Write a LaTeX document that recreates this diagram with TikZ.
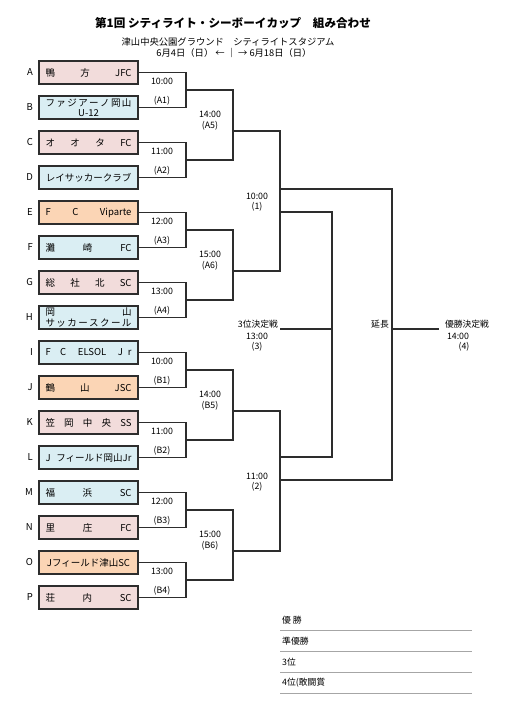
\documentclass[tikz,border=0pt]{standalone}
\usepackage{fontspec}
\setmainfont{Noto Sans CJK JP}
\usepackage{xcolor}
\usepackage{tikz}
\usetikzlibrary{positioning, calc}

\definecolor{teampink}{RGB}{242,220,219}
\definecolor{teamblue}{RGB}{218,238,243}
\definecolor{teamorange}{RGB}{251,213,181}
\definecolor{bracketgray}{RGB}{45,45,45}

\newcommand{\teamrow}[1]{\hbox to 86pt{#1}}

\begin{document}
\begin{tikzpicture}[x=1pt, y=-1pt,
    team/.style={draw=bracketgray, line width=1.3pt, minimum width=99pt, minimum height=23pt,
      inner sep=0pt, text=black, font=\fontsize{9.5}{10.5}\selectfont},
    tag/.style={text=black, font=\fontsize{9.5}{10}\selectfont},
    time/.style={inner sep=0pt, text=black, font=\fontsize{8.8}{10}\selectfont},
    bline/.style={bracketgray, line width=1.1pt}]
      \useasboundingbox (0,0) rectangle (511,712);

      % heading
      \node[font=\fontsize{11.6}{13}\selectfont\bfseries] (title) at (233,23) {第1回 シティライト・シーボーイカップ　組み合わせ};
      \node[font=\fontsize{9.3}{10}\selectfont] (venue) at (228,42) {津山中央公園グラウンド　シティライトスタジアム};
      \node[font=\fontsize{9.3}{10}\selectfont] (dates) at (234,53) {6月4日（日） ← {\bfseries ｜} → 6月18日（日）};

      % teams
      \node[team, fill=teampink] (tA) at (88.5,72.5) {\teamrow{鴨\hfill 方\hfill JFC}};
      \node[team, fill=teamblue] (tB) at (88.5,107.5) {\vbox{\teamrow{フ\hfil ァ\hfil ジ\hfil ア\hfil ー\hfil ノ\hfil 岡\hfil 山}\teamrow{\hfil U-12\hfil}}};
      \node[team, fill=teampink] (tC) at (88.5,142.5) {\teamrow{オ\hfill オ\hfill タ\hfill FC}};
      \node[team, fill=teamblue] (tD) at (88.5,177.5) {\teamrow{\hfil レイサッカークラブ\hfil}};
      \node[team, fill=teamorange] (tE) at (88.5,212.5) {\teamrow{F\hfill C\hfill Viparte}};
      \node[team, fill=teamblue] (tF) at (88.5,247.5) {\teamrow{灘\hfill 崎\hfill FC}};
      \node[team, fill=teampink] (tG) at (88.5,282.5) {\teamrow{総\hfill 社\hfill 北\hfill SC}};
      \node[team, fill=teamblue] (tH) at (88.5,317.5) {\vbox{\teamrow{岡\hfill 山}\teamrow{サ\hfil ッ\hfil カ\hfil ー\hfil ス\hfil ク\hfil ー\hfil ル}}};
      \node[team, fill=teamblue] (tI) at (88.5,352.5) {\teamrow{F\quad C\hfill ELSOL\hfill J\enspace r}};
      \node[team, fill=teamorange] (tJ) at (88.5,387.5) {\teamrow{鶴\hfill 山\hfill JSC}};
      \node[team, fill=teampink] (tK) at (88.5,422.5) {\teamrow{笠\hfill 岡\hfill 中\hfill 央\hfill SS}};
      \node[team, fill=teamblue] (tL) at (88.5,457.5) {\teamrow{J\hfill フィールド岡山Jr}};
      \node[team, fill=teamblue] (tM) at (88.5,492.5) {\teamrow{福\hfill 浜\hfill SC}};
      \node[team, fill=teampink] (tN) at (88.5,527.5) {\teamrow{里\hfill 庄\hfill FC}};
      \node[team, fill=teamorange] (tO) at (88.5,562.5) {\teamrow{\hfil Jフィールド津山SC\hfil}};
      \node[team, fill=teampink] (tP) at (88.5,597.5) {\teamrow{荘\hfill 内\hfill SC}};

      \node[tag, left=2pt of tA] (lA) {A};
      \node[tag, left=2pt of tB] (lB) {B};
      \node[tag, left=2pt of tC] (lC) {C};
      \node[tag, left=2pt of tD] (lD) {D};
      \node[tag, left=2pt of tE] (lE) {E};
      \node[tag, left=2pt of tF] (lF) {F};
      \node[tag, left=2pt of tG] (lG) {G};
      \node[tag, left=2pt of tH] (lH) {H};
      \node[tag, left=2pt of tI] (lI) {I};
      \node[tag, left=2pt of tJ] (lJ) {J};
      \node[tag, left=2pt of tK] (lK) {K};
      \node[tag, left=2pt of tL] (lL) {L};
      \node[tag, left=2pt of tM] (lM) {M};
      \node[tag, left=2pt of tN] (lN) {N};
      \node[tag, left=2pt of tO] (lO) {O};
      \node[tag, left=2pt of tP] (lP) {P};

      % first round
      \coordinate (a1) at (186,90);
      \coordinate (a2) at (186,160);
      \coordinate (a3) at (186,230);
      \coordinate (a4) at (186,300);
      \coordinate (b1) at (186,370);
      \coordinate (b2) at (186,440);
      \coordinate (b3) at (186,510);
      \coordinate (b4) at (186,580);
      \draw[bline] (tA.east) -| (a1) |- (tB.east);
      \draw[bline] (tC.east) -| (a2) |- (tD.east);
      \draw[bline] (tE.east) -| (a3) |- (tF.east);
      \draw[bline] (tG.east) -| (a4) |- (tH.east);
      \draw[bline] (tI.east) -| (b1) |- (tJ.east);
      \draw[bline] (tK.east) -| (b2) |- (tL.east);
      \draw[bline] (tM.east) -| (b3) |- (tN.east);
      \draw[bline] (tO.east) -| (b4) |- (tP.east);

      \node[time] (tmA1) at (162,81.5) {10:00};   \node[time] (cdA1) at (162,100.5) {(A1)};
      \node[time] (tmA2) at (162,151.5) {11:00};  \node[time] (cdA2) at (162,170.5) {(A2)};
      \node[time] (tmA3) at (162,221.5) {12:00};  \node[time] (cdA3) at (162,240.5) {(A3)};
      \node[time] (tmA4) at (162,291.5) {13:00};  \node[time] (cdA4) at (162,310.5) {(A4)};
      \node[time] (tmB1) at (162,361.5) {10:00};  \node[time] (cdB1) at (162,380.5) {(B1)};
      \node[time] (tmB2) at (162,431.5) {11:00};  \node[time] (cdB2) at (162,450.5) {(B2)};
      \node[time] (tmB3) at (162,501.5) {12:00};  \node[time] (cdB3) at (162,520.5) {(B3)};
      \node[time] (tmB4) at (162,571.5) {13:00};  \node[time] (cdB4) at (162,590.5) {(B4)};

      % second round
      \coordinate (a5) at (233,131);
      \coordinate (a6) at (233,271);
      \coordinate (b5) at (233,411);
      \coordinate (b6) at (233,551);
      \draw[bline] (a1) -| (a5) |- (a2);
      \draw[bline] (a3) -| (a6) |- (a4);
      \draw[bline] (b1) -| (b5) |- (b2);
      \draw[bline] (b3) -| (b6) |- (b4);

      \node[time] (tmA5) at (210,114) {14:00};  \node[time] (cdA5) at (210,126) {(A5)};
      \node[time] (tmA6) at (210,254) {15:00};  \node[time] (cdA6) at (210,266) {(A6)};
      \node[time] (tmB5) at (210,394) {14:00};  \node[time] (cdB5) at (210,406) {(B5)};
      \node[time] (tmB6) at (210,534) {15:00};  \node[time] (cdB6) at (210,546) {(B6)};

      % semi finals
      \coordinate (s1) at (280,201);
      \coordinate (s2) at (280,481);
      \draw[bline] (a5) -| (s1) |- (a6);
      \draw[bline] (b5) -| (s2) |- (b6);

      \node[time] (tmS1) at (257,196) {10:00};  \node[time] (cdS1) at (257,207) {(1)};
      \node[time] (tmS2) at (257,476) {11:00};  \node[time] (cdS2) at (257,487) {(2)};

      % final and third place
      \coordinate (s1win) at (280,189);
      \coordinate (s1lose) at (280,212);
      \coordinate (s2lose) at (280,457);
      \coordinate (s2win) at (280,480);
      \coordinate (fin) at (392,329);
      \coordinate (third) at (332,329);
      \coordinate (finend) at (439,329);
      \coordinate (thirdend) at (280,329);
      \draw[bline] (s1win) -| (fin) |- (s2win);
      \draw[bline] (s1lose) -| (third) |- (s2lose);
      \draw[bline] (fin) -- (finend);
      \draw[bline] (third) -- (thirdend);

      \node[time] (thirdname) at (258,324) {3位決定戦};
      \node[time] (tmThird) at (257,336) {13:00};
      \node[time] (cdThird) at (257,347) {(3)};
      \node[time] (extra) at (380,324) {延長};
      \node[time] (finname) at (467,324) {優勝決定戦};
      \node[time] (tmFin) at (458,336) {14:00};
      \node[time] (cdFin) at (464,347) {(4)};

      % results table
      \draw[gray!70, line width=0.8pt] (280,630) -- (472,630);
      \draw[gray!70, line width=0.8pt] (280,651) -- (472,651);
      \draw[gray!70, line width=0.8pt] (280,672) -- (472,672);
      \draw[gray!70, line width=0.8pt] (280,693) -- (472,693);
      \node[time, anchor=west] (first) at (282,620) {優 勝};
      \node[time, anchor=west] (second) at (282,641) {準優勝};
      \node[time, anchor=west] (bronze) at (282,662) {3位};
      \node[time, anchor=west] (fourth) at (282,683) {4位(敢闘賞};
    \end{tikzpicture}
\end{document}
